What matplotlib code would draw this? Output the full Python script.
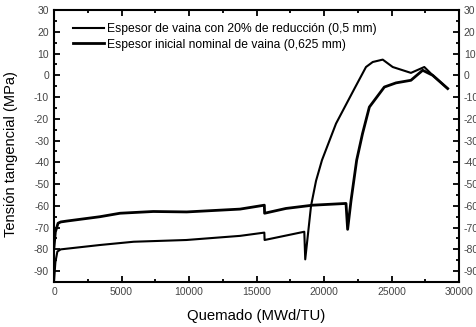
import numpy as np
import matplotlib
matplotlib.use("Agg")
import matplotlib.pyplot as plt
from matplotlib.ticker import MultipleLocator

plt.rcParams['font.family'] = ['Liberation Sans', 'DejaVu Sans']
plt.rcParams['axes.unicode_minus'] = False

# espesor reducido (0,5 mm)
burn_red = [0, 100, 250, 500, 3400, 5900, 9800, 13780, 15580, 15600, 18540, 18610,
            19040, 19410, 19850, 20890, 22250, 23110, 23610, 24350, 25090, 26440,
            27430, 28050, 29160]
stress_red = [-95, -86, -81, -80, -78, -76.5, -75.7, -73.8, -72.3, -75.7, -71.9, -84.6,
              -60, -48.5, -39, -22.2, -6.2, 3.8, 6.1, 7.2, 3.8, 1.1,
              3.8, 0, -6.1]

# espesor nominal (0,625 mm)
burn_nom = [0, 100, 300, 500, 940, 3400, 4890, 7350, 9830, 13780, 15580, 15600,
            17180, 19160, 21630, 21750, 22000, 22420, 22850, 23360, 24470, 25330,
            26440, 27310, 28050, 29160]
stress_nom = [-79, -72, -68, -67.4, -67, -65, -63.4, -62.6, -62.8, -61.5, -59.7, -63.4,
              -61.2, -59.7, -58.9, -70.8, -57.7, -39, -26.9, -14.6, -5.4, -3.5,
              -2.3, 2.3, 0, -6.1]

fig = plt.figure(figsize=(4.76, 3.27), dpi=100)
ax = fig.add_axes([54/476, 1 - 282/327, 405/476, 272/327])

ax.plot(burn_red, stress_red, color="k", linewidth=1.5,
        label="Espesor de vaina con 20% de reducción (0,5 mm)")
ax.plot(burn_nom, stress_nom, color="k", linewidth=2.0,
        label="Espesor inicial nominal de vaina (0,625 mm)")

ax.set_xlim(0, 30000)
ax.set_ylim(-95, 30)
ax.xaxis.set_major_locator(MultipleLocator(5000))
ax.xaxis.set_minor_locator(MultipleLocator(2500))
ax.yaxis.set_major_locator(MultipleLocator(10))
ax.yaxis.set_minor_locator(MultipleLocator(5))
ax.tick_params(which="both", direction="in", top=True, right=True,
               labelright=True, labelsize=7.5, labelcolor="#444444", width=1.3)
ax.tick_params(which="major", length=4)
ax.tick_params(which="minor", length=2.5)
for s in ax.spines.values():
    s.set_linewidth(1.5)

ax.set_xlabel("Quemado (MWd/TU)", fontsize=10.7, labelpad=9)
ax.set_ylabel("Tensión tangencial (MPa)", fontsize=10.5, labelpad=6)
ax.yaxis.set_label_coords(-0.09, 0.47)

ax.legend(loc="upper left", bbox_to_anchor=(0.035, 0.97), frameon=False,
          fontsize=8.7, handlelength=2.6, handletextpad=0.2, labelspacing=0.3,
          borderaxespad=0)

fig.savefig("out.png", dpi=100)
